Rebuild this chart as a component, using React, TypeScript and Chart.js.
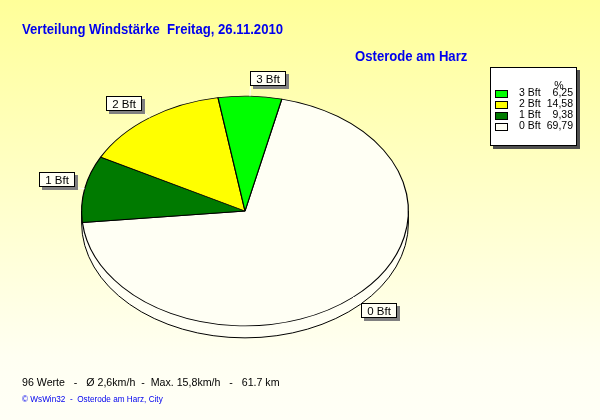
import React, { useEffect, useRef } from "react";
import { Chart, registerables } from "chart.js";

Chart.register(...registerables);

// ---- data ----
const categories = ["0 Bft", "1 Bft", "2 Bft", "3 Bft"];
const percentages = [69.79, 9.38, 14.58, 6.25];
const sliceColors = ["#FFFFF4", "#007A00", "#FFFF00", "#00FF00"];
const titleText = "Verteilung Windstärke  Freitag, 26.11.2010";
const locationText = "Osterode am Harz";
const statsText = "96 Werte   -   Ø 2,6km/h  -  Max. 15,8km/h   -   61.7 km";
const creditText = "© WsWin32  -  Osterode am Harz, City";
const legendHeader = "%";

// ---- style ----
const FONT = '"Liberation Sans", Arial, sans-serif';
const TILT = 0.703;
const DEPTH = 12;
const BLUE = "#0000EE";

function drawText(
  ctx: CanvasRenderingContext2D,
  text: string,
  x: number,
  y: number,
  font: string,
  color: string,
  sx = 1,
  align: CanvasTextAlign = "left"
) {
  ctx.save();
  ctx.font = font;
  ctx.fillStyle = color;
  ctx.textAlign = align;
  ctx.textBaseline = "alphabetic";
  ctx.translate(x, y);
  ctx.scale(sx, 1);
  ctx.fillText(text, 0, 0);
  ctx.restore();
}

const fmt = (v: number) => v.toFixed(2).replace(".", ",");

const decorPlugin = {
  id: "decor",
  beforeDraw(chart: any) {
    const { ctx, width, height } = chart;
    const g = ctx.createLinearGradient(0, 0, 0, height);
    g.addColorStop(0, "#FFFF99");
    g.addColorStop(0.85, "#FFFFF2");
    g.addColorStop(1, "#FFFFF6");
    ctx.save();
    ctx.fillStyle = g;
    ctx.fillRect(0, 0, width, height);
    ctx.restore();
  },
  beforeDatasetsDraw(chart: any) {
    const { ctx } = chart;
    const arc = chart.getDatasetMeta(0).data[0];
    const { x, y, outerRadius } = arc.getProps(["x", "y", "outerRadius"], true);
    const rx = outerRadius;
    const ry = outerRadius * TILT;
    // 3D depth (side of the disc)
    ctx.save();
    ctx.fillStyle = sliceColors[0];
    ctx.strokeStyle = "#000";
    ctx.lineWidth = 1;
    ctx.beginPath();
    ctx.ellipse(x, y + DEPTH, rx, ry, 0, 0, Math.PI * 2);
    ctx.fill();
    ctx.fillRect(x - rx, y, 2 * rx, DEPTH);
    ctx.beginPath();
    ctx.ellipse(x, y + DEPTH, rx, ry, 0, 0, Math.PI);
    ctx.stroke();
    ctx.beginPath();
    ctx.moveTo(x - rx, y);
    ctx.lineTo(x - rx, y + DEPTH);
    ctx.moveTo(x + rx, y);
    ctx.lineTo(x + rx, y + DEPTH);
    ctx.stroke();
    ctx.restore();
    // tilt the pie into an ellipse
    ctx.save();
    ctx.translate(x, y);
    ctx.scale(1, TILT);
    ctx.translate(-x, -y);
  },
  afterDatasetsDraw(chart: any) {
    const { ctx } = chart;
    ctx.restore();
    const meta = chart.getDatasetMeta(0);
    const labelFont = `11.5px ${FONT}`;
    meta.data.forEach((el: any, i: number) => {
      const { x, y, startAngle, endAngle, outerRadius } = el.getProps(
        ["x", "y", "startAngle", "endAngle", "outerRadius"],
        true
      );
      const mid = (startAngle + endAngle) / 2;
      const dx = outerRadius * Math.cos(mid);
      const dy = outerRadius * TILT * Math.sin(mid);
      const len = Math.hypot(dx, dy);
      const ax = x + dx;
      const ay = y + dy;
      const ex = ax + (10 * dx) / len;
      const ey = ay + (10 * dy) / len;
      ctx.save();
      ctx.strokeStyle = "#FFFFFF";
      ctx.lineWidth = 1;
      ctx.beginPath();
      ctx.moveTo(ax, ay);
      ctx.lineTo(ex, ey);
      ctx.stroke();
      ctx.font = labelFont;
      const tw = ctx.measureText(categories[i]).width;
      const bw = Math.round(tw + 12);
      const bh = 15;
      const bx = Math.round(dx >= 0 ? ex : ex - bw);
      const by = Math.round(dy < 0 ? ey - bh : ey);
      ctx.fillStyle = "#808080";
      ctx.fillRect(bx + 3, by + 3, bw, bh);
      ctx.fillStyle = "#FFFFF4";
      ctx.fillRect(bx, by, bw, bh);
      ctx.strokeStyle = "#000";
      ctx.strokeRect(bx + 0.5, by + 0.5, bw - 1, bh - 1);
      ctx.restore();
      drawText(ctx, categories[i], bx + bw / 2, by + 12, labelFont, "#000", 1, "center");
    });
  },
  afterDraw(chart: any) {
    const { ctx } = chart;
    // titles
    drawText(ctx, titleText, 22, 34, `bold 15px ${FONT}`, BLUE, 0.875);
    drawText(ctx, locationText, 355, 61, `bold 15px ${FONT}`, BLUE, 0.875);
    // footer
    drawText(ctx, statsText, 22, 386, `11.5px ${FONT}`, "#000", 0.925);
    drawText(ctx, creditText, 22, 402, `9px ${FONT}`, BLUE, 0.91);

    // legend box
    const lx = 490, ly = 67, lw = 87, lh = 79;
    ctx.save();
    ctx.fillStyle = "#505050";
    ctx.fillRect(lx + 3, ly + 3, lw, lh);
    ctx.fillStyle = "#FFFFFF";
    ctx.fillRect(lx, ly, lw, lh);
    ctx.strokeStyle = "#000";
    ctx.lineWidth = 1;
    ctx.strokeRect(lx + 0.5, ly + 0.5, lw - 1, lh - 1);
    ctx.restore();
    const lfont = `10.5px ${FONT}`;
    drawText(ctx, legendHeader, 559, 89, lfont, "#000", 1, "center");
    const order = categories.map((_, i) => i).reverse();
    order.forEach((idx, k) => {
      const base = 96 + k * 11;
      ctx.save();
      ctx.fillStyle = sliceColors[idx];
      ctx.fillRect(495, base - 6, 12, 7);
      ctx.strokeStyle = "#000";
      ctx.strokeRect(495.5, base - 5.5, 12, 7);
      ctx.restore();
      drawText(ctx, categories[idx], 519, base, lfont, "#000");
      drawText(ctx, fmt(percentages[idx]), 573, base, lfont, "#000", 1, "right");
    });
  },
};

export default function App() {
  const ref = useRef<HTMLCanvasElement | null>(null);
  useEffect(() => {
    if (!ref.current) return;
    const chart = new Chart(ref.current, {
      type: "pie",
      data: {
        labels: categories,
        datasets: [
          {
            data: percentages,
            backgroundColor: sliceColors,
            borderColor: "#000000",
            borderWidth: 1.2,
            clip: false as any,
          },
        ],
      },
      options: {
        responsive: false,
        animation: false,
        events: [],
        rotation: 13,
        layout: { padding: { left: 81, right: 191, top: 47, bottom: 45 } },
        plugins: {
          legend: { display: false },
          title: { display: false },
          tooltip: { enabled: false },
        },
      },
      plugins: [decorPlugin],
    });
    return () => chart.destroy();
  }, []);
  return (
    <div style={{ position: "absolute", left: 0, top: 0, width: 600, height: 420 }}>
      <canvas ref={ref} width={600} height={420} />
    </div>
  );
}
